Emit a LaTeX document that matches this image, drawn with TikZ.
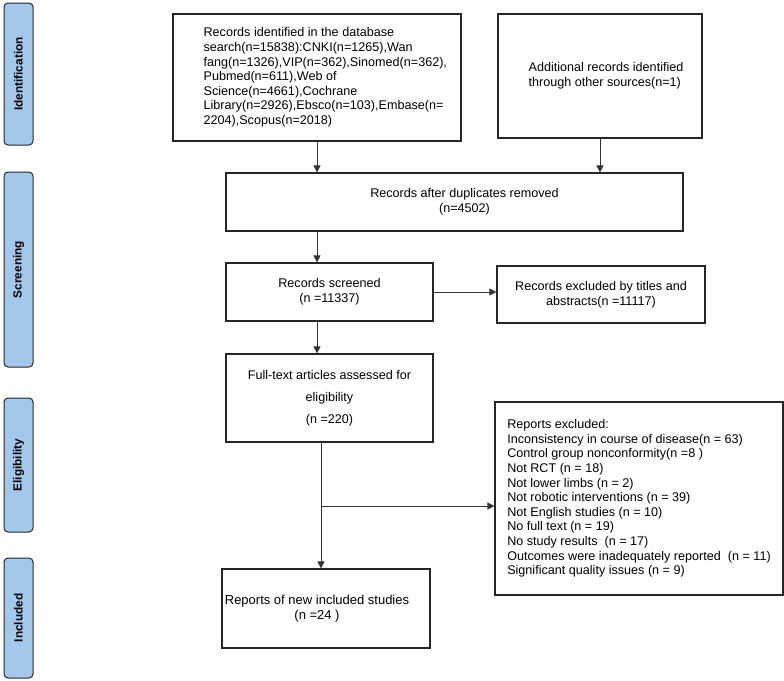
\documentclass[tikz,border=0pt]{standalone}
\usepackage{fontspec}
\setmainfont{Liberation Sans}
\usetikzlibrary{arrows.meta,positioning}
\definecolor{stageblue}{RGB}{164,200,236}

\tikzset{
    box/.style={draw=black!85, line width=1.2pt, align=center, inner sep=0pt,
        font=\fontsize{12.6}{14.6}\selectfont},
    boxtext/.style={inner sep=0pt, font=\fontsize{12.6}{14.6}\selectfont},
    stage/.style={draw=black!85, line width=1pt, fill=stageblue, rounded corners=4pt,
        rotate=90, minimum height=29pt, inner sep=0pt,
        font=\bfseries\fontsize{11.8}{13}\selectfont},
    link/.style={draw=black!80, line width=0.9pt, -{Triangle[length=7pt,width=7pt]}}
}

\begin{document}
\begin{tikzpicture}[x=1pt, y=-1pt]
    \useasboundingbox (0,0) rectangle (784,680);
    % stages on the left
    \node[stage, minimum width=142pt] (sid) at (18.5,74) {Identification};
    \node[stage, minimum width=195pt] (sscr) at (18.5,269.5) {Screening};
    \node[stage, minimum width=134pt] (selig) at (18.5,465) {Eligibility};
    \node[stage, minimum width=120pt] (sincl) at (18.5,618) {Included};
    % flow boxes
    \node[box, minimum width=288pt, minimum height=127pt,
        label={[boxtext, align=left, anchor=west, xshift=31pt]west:{Records identified in the database\\
            search(n=15838):CNKI(n=1265),Wan\\
            fang(n=1326),VIP(n=362),Sinomed(n=362),\\
            Pubmed(n=611),Web of\\
            Science(n=4661),Cochrane\\
            Library(n=2926),Ebsco(n=103),Embase(n=\\
            2204),Scopus(n=2018)}}] (db) at (317,77.5) {};
    \node[box, minimum width=204pt, minimum height=124pt,
        label={[boxtext, align=left, xshift=6pt]center:{Additional records identified\\
            through other sources(n=1)}}] (add) at (600,76) {};
    \node[box, minimum width=457pt, minimum height=58pt,
        label={[boxtext, align=center, xshift=10pt]center:{Records after duplicates removed\\
            (n=4502)}}] (dup) at (454.5,202) {};
    \node[box, minimum width=207pt, minimum height=58pt] (scr) at (329.5,292)
        {Records screened\\(n =11337)};
    \node[box, minimum width=208pt, minimum height=57pt] (scrx) at (601,294.5)
        {Records excluded by titles and\\abstracts(n =11117)};
    \node[box, minimum width=207pt, minimum height=88pt,
        font=\fontsize{12.6}{22}\selectfont] (ft) at (329.5,398)
        {Full-text articles assessed for\\eligibility\\(n =220)};
    \node[box, align=left, minimum width=288pt, minimum height=193pt] (rep) at (639,498.5)
        {Reports excluded:\\
        Inconsistency in course of disease(n = 63)\\
        Control group nonconformity(n =8 )\\
        Not RCT (n = 18)\\
        Not lower limbs (n = 2)\\
        Not robotic interventions (n = 39)\\
        Not English studies (n = 10)\\
        No full text (n = 19)\\
        No study results\ \ (n = 17)\\
        Outcomes were inadequately reported\ \ (n = 11)\\
        Significant quality issues (n = 9)};
    \node[box, minimum width=208pt, minimum height=79pt,
        label={[boxtext, align=center, xshift=-9pt, font=\fontsize{13}{15}\selectfont]center:{Reports of new included studies\\
            (n =24 )}}] (inc) at (326,608.5) {};
    % connectors
    \coordinate (br) at (321,506);
    \draw[link] (db.south) -- (db.south |- dup.north);
    \draw[link] (add.south) -- (add.south |- dup.north);
    \draw[link] (dup.south -| db.south) -- (scr.north -| db.south);
    \draw[link] (scr.east) -- (scrx.west |- scr.east);
    \draw[link] (scr.south -| db.south) -- (ft.north -| db.south);
    \draw[link] (ft.south -| br) -- (inc.north -| br);
    \draw[link] (br) -- (br -| rep.west);
\end{tikzpicture}
\end{document}
